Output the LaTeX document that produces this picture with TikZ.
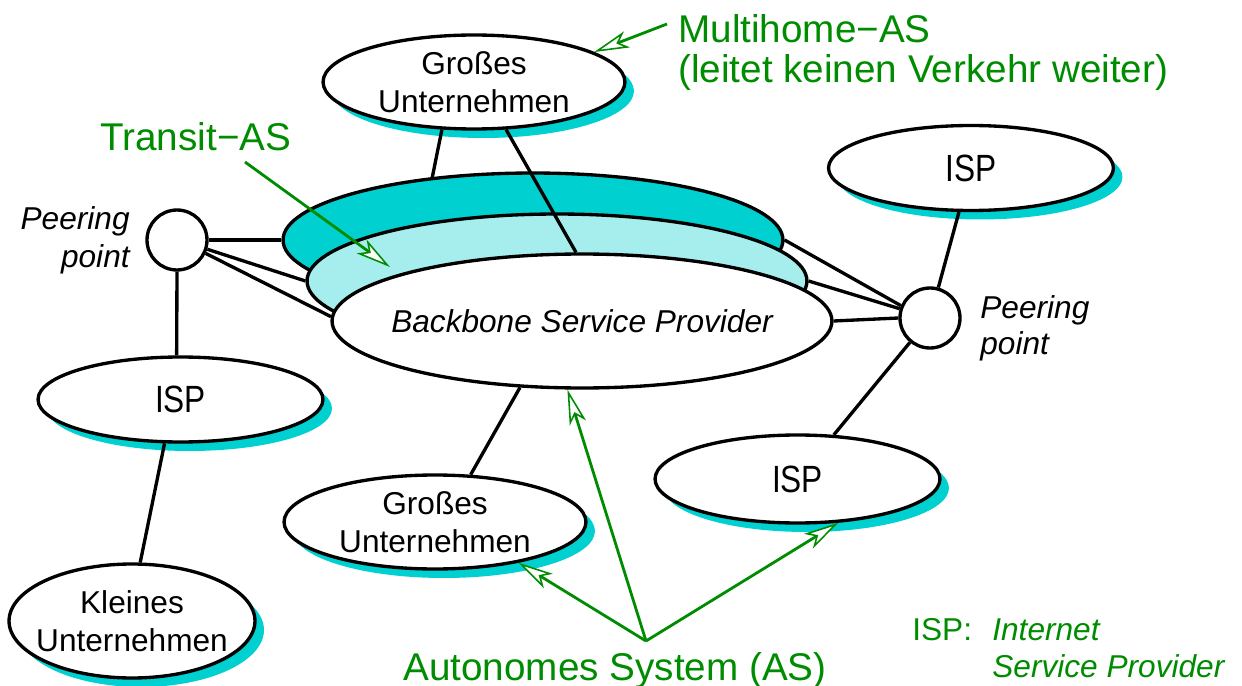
\documentclass[tikz,border=0pt]{standalone}
\usepackage{fontspec}
\usepackage{graphicx}
\setmainfont{Liberation Sans}
\usetikzlibrary{shapes.geometric,arrows.meta,shadows}
\definecolor{agreen}{RGB}{0,140,0}
\definecolor{dcyan}{RGB}{0,208,208}
\definecolor{lcyan}{RGB}{166,238,238}
\begin{document}
\begin{tikzpicture}[x=0.02cm,y=-0.02cm,
  ell/.style={ellipse, draw, line width=1.9pt, fill=white, inner sep=0pt},
  shd/.style={drop shadow={shadow xshift=0.18cm, shadow yshift=-0.18cm, fill=dcyan, opacity=1}},
  txt/.style={font=\fontsize{18}{21.5}\selectfont, align=center, inner sep=0pt},
  itxt/.style={font=\fontsize{18}{21.5}\selectfont\itshape, inner sep=0pt},
  peer/.style={circle, draw, line width=1.9pt, fill=white, minimum size=1.2cm, inner sep=0pt},
  conn/.style={line width=1.9pt},
  gtext/.style={text=agreen, font=\fontsize{22}{22.7}\selectfont, inner sep=0pt},
  ltext/.style={text=agreen, font=\fontsize{18}{21.5}\selectfont, inner sep=0pt},
  garrow/.style={draw=agreen, line width=1.6pt,
    -{Stealth[open, fill=white, length=0.7cm, width=0.34cm, inset=0.18cm, line width=0.9pt]}}
]
\useasboundingbox (0,0) rectangle (1242,686);

% backbone stack
\node[ell, fill=dcyan, minimum width=10cm, minimum height=2.68cm] (dark) at (533,240) {};
\node[ell, fill=lcyan, minimum width=10cm, minimum height=2.68cm] (light) at (557,281) {};
\node[ell, minimum width=10cm, minimum height=2.68cm,
  label={[itxt]center:Backbone Service Provider}] (bb) at (582,321) {};

% other AS
\node[ell, shd, minimum width=6.04cm, minimum height=1.88cm,
  label={[txt]center:Großes\\Unternehmen}] (gu1) at (474,82) {};
\node[ell, shd, minimum width=6.04cm, minimum height=1.88cm,
  label={[txt]center:Großes\\Unternehmen}] (gu2) at (435,522) {};
\node[ell, shd, minimum width=4.92cm, minimum height=2.28cm,
  label={[txt]center:Kleines\\Unternehmen}] (kl) at (132,621) {};
\node[ell, shd, minimum width=5.7cm, minimum height=1.7cm,
  label={[txt]center:\scalebox{1}[1.2]{ISP}}] (ispl) at (180.5,399.5) {};
\node[ell, shd, minimum width=5.7cm, minimum height=1.7cm,
  label={[txt]center:\scalebox{1}[1.2]{ISP}}] (isptr) at (971,168) {};
\node[ell, shd, minimum width=5.7cm, minimum height=1.76cm,
  label={[txt]center:\scalebox{1}[1.2]{ISP}}] (ispbr) at (797.5,479) {};

% peering points
\node[peer] (pl) at (177,240) {};
\node[peer] (pr) at (930,318) {};
\node[itxt, anchor=base east] (pl1) at (130,230) {Peering};
\node[itxt, anchor=base east] (pl2) at (130,268) {point};
\node[itxt, anchor=base west] (pr1) at (980,318) {Peering};
\node[itxt, anchor=base west] (pr2) at (980,355) {point};

% connections
\draw[conn] (gu1.236) -- (dark.148);
\draw[conn] (gu1.-56) -- (bb.95);
\draw[conn] (bb.227) -- (gu2.53);
\draw[conn] (pl.east) -- (dark.west);
\draw[conn] (pl.-17) -- (light.west);
\draw[conn] (pl.-25) -- (bb.179);
\draw[conn] (pl.south) -- (ispl.95);
\draw[conn] (ispl.250) -- (kl.82);
\draw[conn] (pr.157) -- (dark.east);
\draw[conn] (pr.163) -- (light.east);
\draw[conn] (pr.west) -- (bb.east);
\draw[conn] (pr) -- (isptr);
\draw[conn] (pr) -- (ispbr);

% annotations
\node[gtext, anchor=base west] (mh1) at (678,43) {Multihome−AS};
\node[gtext, anchor=base west] (mh2) at (678,83) {(leitet keinen Verkehr weiter)};
\node[gtext, anchor=base west] (tr) at (100,151) {Transit−AS};
\node[gtext, anchor=base west] (as) at (403,680) {Autonomes System (AS)};
\node[ltext, anchor=base west] (lg1) at (912,640) {ISP:};
\node[ltext, anchor=base west, font=\fontsize{18}{21.5}\selectfont\itshape] (lg2) at (992,640) {Internet};
\node[ltext, anchor=base west, font=\fontsize{18}{21.5}\selectfont\itshape] (lg3) at (992,677) {Service Provider};

\coordinate (mhs) at (667,24);
\coordinate (trs) at (245,162);
\coordinate (tre) at (390,267);
\coordinate (ass) at (646,641);

\draw[garrow] (mhs) -- (gu1.14.5);
\draw[garrow] (trs) -- (tre);
\draw[garrow] (ass) -- (bb.258);
\draw[garrow] (ass) -- (gu2.-26);
\draw[garrow] (ass) -- (ispbr.-47);
\end{tikzpicture}
\end{document}
